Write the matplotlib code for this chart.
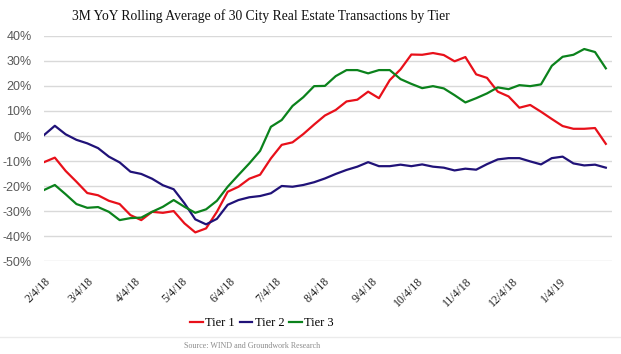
import numpy as np
import pandas as pd
import matplotlib
matplotlib.use("Agg")
import matplotlib.pyplot as plt
import matplotlib.ticker as mticker

# weekly observations, 3M YoY rolling average (%)
dates = pd.date_range("2018-02-04", periods=53, freq="7D")

tier1 = [-10.4, -8.6, -13.9, -18.2, -22.7, -23.6, -25.8, -27.1, -31.5, -33.5,
         -30.2, -30.6, -29.9, -34.8, -38.4, -36.8, -30.2, -22.2, -20.2, -17.0,
         -15.4, -8.9, -3.5, -2.5, 0.8, 4.6, 8.2, 10.4, 13.8, 14.5,
         17.7, 15.1, 22.3, 26.6, 32.5, 32.4, 33.1, 32.3, 29.8, 31.5,
         24.6, 23.2, 17.7, 15.8, 11.3, 12.4, 9.7, 6.8, 4.0, 2.9,
         2.9, 3.2, -3.1]
tier2 = [0.4, 4.1, 0.7, -1.5, -2.9, -4.8, -8.2, -10.5, -14.2, -15.1,
         -17.0, -19.6, -21.2, -26.8, -33.2, -35.2, -33.0, -27.4, -25.5, -24.4,
         -23.9, -22.8, -19.9, -20.2, -19.5, -18.4, -16.9, -15.1, -13.5, -12.2,
         -10.4, -12.0, -12.0, -11.4, -12.0, -11.3, -12.2, -12.6, -13.7, -13.0,
         -13.4, -11.2, -9.3, -8.8, -8.8, -10.1, -11.3, -8.8, -8.2, -10.9,
         -11.7, -11.4, -12.6]
tier3 = [-21.5, -19.5, -23.2, -27.1, -28.6, -28.3, -30.2, -33.5, -32.7, -32.5,
         -30.2, -28.2, -25.5, -28.2, -30.6, -29.2, -25.8, -20.2, -15.5, -10.9,
         -5.9, 3.7, 6.4, 12.0, 15.5, 19.9, 20.0, 23.9, 26.3, 26.3,
         25.0, 26.3, 26.3, 22.7, 20.8, 19.1, 19.9, 19.0, 16.3, 13.4,
         15.1, 17.0, 19.4, 18.7, 20.3, 19.9, 20.6, 28.0, 31.6, 32.4,
         34.7, 33.5, 27.0]

labels = ["Tier 1", "Tier 2", "Tier 3"]
colors = ["#E8101A", "#201278", "#0B821C"]
tick_dates = ["2018-02-04", "2018-03-04", "2018-04-04", "2018-05-04", "2018-06-04",
              "2018-07-04", "2018-08-04", "2018-09-04", "2018-10-04", "2018-11-04",
              "2018-12-04", "2019-01-04"]

serif = "Liberation Serif"

fig = plt.figure(figsize=(6.21, 3.54), dpi=100)
ax = fig.add_axes([0.0709, 0.2613, 0.9146, 0.6378])

for vals, lab, col in zip([tier1, tier2, tier3], labels, colors):
    ax.plot(dates, vals, color=col, lw=1.6, label=lab)

ax.set_ylim(-50, 40)
ax.set_yticks(np.arange(-50, 41, 10))
ax.yaxis.set_major_formatter(mticker.FuncFormatter(lambda v, p: f"{v:.0f}%"))
ax.set_xlim(pd.Timestamp("2018-02-04"), pd.Timestamp("2019-02-07"))
ticks = pd.to_datetime(tick_dates)
ax.set_xticks(ticks)
ax.set_xticklabels([f"{d.month}/{d.day}/{d.strftime('%y')}" for d in ticks],
                   rotation=45, ha="right", va="top", rotation_mode="anchor",
                   family=serif, fontsize=8.5, color="#222222")
for t in ax.get_yticklabels():
    t.set_family("Liberation Sans")

ax.grid(axis="y", color="#D9D9D9", lw=1)
ax.set_axisbelow(True)
for s in ax.spines.values():
    s.set_visible(False)
ax.tick_params(length=0)
ax.tick_params(axis="y", pad=9, labelsize=9, labelcolor="#595959")
ax.tick_params(axis="x", pad=10)

fig.text(261 / 621, 0.955, "3M YoY Rolling Average of 30 City Real Estate Transactions by Tier",
         ha="center", va="center", family=serif, fontsize=9.8, color="#111111")

leg = fig.legend(loc="center", bbox_to_anchor=(262 / 621, 1 - 323 / 354), ncol=3,
                 frameon=False, handlelength=1.0, handletextpad=0.2, columnspacing=0.4,
                 prop={"family": serif, "size": 9})

fig.add_artist(plt.Line2D([0, 1], [1 - 337 / 354] * 2, color="#EBEBEB", lw=1))
fig.text(252 / 621, 1 - 346 / 354, "Source: WIND and Groundwork Research",
         ha="center", va="center", family=serif, fontsize=5.8, color="#8C8C8C")

fig.savefig("out.png", dpi=100)
